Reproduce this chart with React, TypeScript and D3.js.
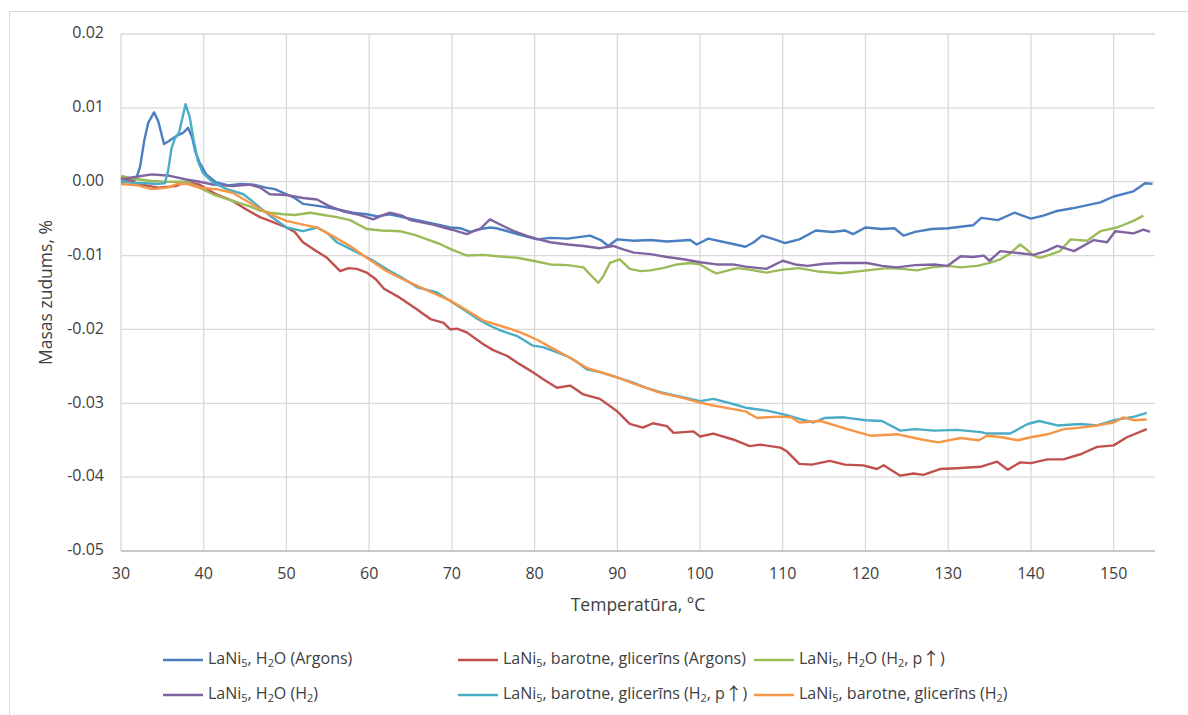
import React from "react";
import * as d3 from "d3";

type Pt = [number, number];

const xTicks = [30, 40, 50, 60, 70, 80, 90, 100, 110, 120, 130, 140, 150];
const yTicks = [0.02, 0.01, 0, -0.01, -0.02, -0.03, -0.04, -0.05];
const yTickLabels = ["0.02", "0.01", "0.00", "-0.01", "-0.02", "-0.03", "-0.04", "-0.05"];
const xTitle = "Temperatūra, °C";
const yTitle = "Masas zudums, %";

const h2oArgon: Pt[] = [[30,0.0000],[31,0.0001],[31.8,0.0003],[32.3,0.002],[32.8,0.0055],[33.3,0.008],[34,0.0094],[34.5,0.0082],[35.2,0.0051],[35.8,0.0055],[36.7,0.0062],[37.5,0.0066],[38.1,0.0073],[38.6,0.006],[39,0.004],[39.5,0.0026],[40.3,0.001],[41.5,-0.0001],[43,-0.0005],[44.5,-0.0003],[46,-0.0004],[47.5,-0.0008],[48.6,-0.001],[50,-0.0017],[51,-0.0022],[52,-0.003],[54,-0.0033],[56,-0.0037],[58,-0.0042],[59.7,-0.0044],[61,-0.0047],[62.5,-0.0044],[64,-0.0048],[65.8,-0.0052],[67.5,-0.0056],[69.8,-0.0062],[71,-0.0063],[72.2,-0.0068],[73.5,-0.0064],[74.6,-0.0062],[75.4,-0.0063],[77.9,-0.0071],[80.3,-0.0078],[81.9,-0.0076],[84,-0.0077],[86.7,-0.0073],[88,-0.0079],[88.9,-0.0087],[90,-0.0078],[92,-0.008],[94,-0.0079],[96,-0.0081],[98.8,-0.0079],[99.6,-0.0085],[101,-0.0077],[103,-0.0082],[105.5,-0.0088],[106.5,-0.0082],[107.5,-0.0073],[109,-0.0078],[110.3,-0.0083],[112,-0.0078],[114,-0.0066],[116,-0.0068],[117.5,-0.0066],[118.5,-0.0071],[120,-0.0062],[122,-0.0064],[123.5,-0.0063],[124.6,-0.0073],[126,-0.0068],[128,-0.0064],[130,-0.0063],[133,-0.0059],[134,-0.0049],[136,-0.0052],[138,-0.0042],[140,-0.005],[141.5,-0.0046],[143,-0.004],[145,-0.0036],[148.4,-0.0028],[150,-0.002],[152.4,-0.0013],[153.8,-0.0002],[154.7,-0.0003]];

const glycArgon: Pt[] = [[30,0.0005],[31,0.0002],[32,-0.0003],[34.5,-0.0008],[36.6,-0.0006],[37.9,0.0],[39.5,-0.0004],[41.5,-0.0017],[43.5,-0.0026],[45.2,-0.0038],[46.8,-0.0048],[48,-0.0053],[50,-0.0062],[51,-0.0068],[52,-0.0082],[53.5,-0.0093],[54.9,-0.0103],[56.5,-0.0121],[57.5,-0.0117],[58.5,-0.0118],[59.7,-0.0123],[60.8,-0.0132],[61.8,-0.0145],[63.7,-0.0157],[65.8,-0.0173],[67.4,-0.0186],[69,-0.0191],[69.8,-0.02],[70.6,-0.0199],[71.8,-0.0204],[73.8,-0.022],[75,-0.0228],[76.7,-0.0236],[78.2,-0.0247],[79.8,-0.0258],[81,-0.0267],[82.7,-0.0279],[84.3,-0.0276],[85.9,-0.0288],[87.9,-0.0294],[89.9,-0.031],[91.5,-0.0328],[93.1,-0.0333],[94.3,-0.0327],[96,-0.0331],[96.8,-0.034],[99.2,-0.0338],[100,-0.0345],[101.6,-0.0341],[104,-0.0349],[106,-0.0358],[107.3,-0.0356],[109.7,-0.036],[110.5,-0.0365],[112,-0.0382],[113.5,-0.0383],[115.7,-0.0378],[117.5,-0.0383],[119.7,-0.0384],[121.4,-0.0389],[122.2,-0.0384],[124.2,-0.0398],[125.8,-0.0395],[127,-0.0397],[129,-0.0389],[131,-0.0388],[133.9,-0.0386],[135.9,-0.0379],[137.2,-0.039],[138.7,-0.038],[140,-0.0381],[142,-0.0376],[143.9,-0.0376],[146,-0.0369],[148,-0.0359],[150,-0.0357],[151.6,-0.0346],[154,-0.0335]];

const h2oH2p: Pt[] = [[30,0.0008],[31.5,0.0004],[33.7,0.0001],[35.6,0.0],[37.9,0.0],[39.5,-0.0008],[41.1,-0.0017],[43.5,-0.0026],[45.5,-0.0033],[46.8,-0.0039],[48,-0.0042],[49.6,-0.0044],[51,-0.0045],[52.9,-0.0042],[54.5,-0.0045],[56.1,-0.0048],[57.7,-0.0052],[59.7,-0.0064],[61.5,-0.0066],[63.7,-0.0067],[65.5,-0.0072],[67,-0.0078],[68.5,-0.0084],[69.8,-0.0091],[71.8,-0.01],[73.8,-0.0099],[75.5,-0.0101],[77.9,-0.0103],[79.8,-0.0107],[81.9,-0.0112],[84,-0.0113],[85.9,-0.0116],[87.1,-0.013],[87.7,-0.0137],[88.3,-0.0128],[89.1,-0.011],[90.3,-0.0105],[91.5,-0.0118],[92.8,-0.0121],[94,-0.012],[95.5,-0.0117],[97.2,-0.0112],[98.8,-0.011],[100,-0.0112],[101.2,-0.012],[102,-0.0124],[104.5,-0.0117],[106,-0.0119],[108,-0.0123],[110,-0.0119],[112,-0.0117],[114.5,-0.0122],[117,-0.0124],[120.2,-0.012],[122.6,-0.0117],[124.5,-0.0118],[126.2,-0.012],[128,-0.0116],[129.9,-0.0114],[131.5,-0.0116],[133.5,-0.0114],[135,-0.011],[136.3,-0.0105],[137.5,-0.0097],[138.7,-0.0085],[139.5,-0.0092],[140.3,-0.01],[141.1,-0.0103],[142.5,-0.0098],[143.5,-0.0094],[144.8,-0.0078],[146.8,-0.008],[148.4,-0.0067],[150.4,-0.0062],[152.4,-0.0053],[153.6,-0.0046]];

const h2oH2: Pt[] = [[30,0.0003],[31.5,0.0006],[33.7,0.001],[35.9,0.0008],[37.9,0.0003],[39.5,0.0],[41.1,-0.0004],[43.5,-0.0006],[45.6,-0.0004],[46.8,-0.0008],[48,-0.0017],[50,-0.0018],[52,-0.0022],[53.7,-0.0024],[55,-0.0032],[56.8,-0.004],[58.5,-0.0044],[60.5,-0.0051],[61.5,-0.0046],[62.5,-0.0042],[64,-0.0046],[65,-0.0052],[67.7,-0.0058],[70,-0.0065],[71.8,-0.0071],[73.5,-0.0063],[74.6,-0.0051],[76.2,-0.006],[77.5,-0.0067],[79,-0.0073],[80.5,-0.0078],[81.9,-0.0082],[84,-0.0085],[85.9,-0.0087],[87.9,-0.009],[89.5,-0.0087],[90.8,-0.0092],[92,-0.0096],[94,-0.0098],[96,-0.0102],[98,-0.0105],[100,-0.0109],[102,-0.0112],[104,-0.0112],[105.5,-0.0115],[108,-0.0118],[110,-0.0107],[111.5,-0.0112],[113,-0.0114],[115,-0.0111],[117,-0.011],[120.2,-0.011],[122,-0.0114],[123.8,-0.0116],[126,-0.0113],[128.3,-0.0112],[129.9,-0.0114],[131.5,-0.0101],[133,-0.0102],[134.3,-0.01],[135,-0.0107],[136.3,-0.0094],[138,-0.0096],[140.3,-0.0099],[141.8,-0.0094],[143.2,-0.0087],[145.2,-0.0094],[147.6,-0.0079],[149.2,-0.0082],[150.2,-0.0067],[152.4,-0.007],[153.6,-0.0065],[154.4,-0.0068]];

const glycH2p: Pt[] = [[30,0.0001],[31.5,-0.0002],[33,-0.0002],[34.5,-0.0003],[35.3,-0.0002],[35.7,0.0015],[36.1,0.0045],[36.5,0.0058],[37,0.0066],[37.4,0.0085],[37.8,0.0105],[38.3,0.0088],[38.8,0.0055],[39.3,0.0028],[39.9,0.0012],[41.1,-0.0001],[42.8,-0.001],[44.8,-0.0017],[45.6,-0.0024],[46.8,-0.0035],[48,-0.0046],[50,-0.0062],[52,-0.0067],[53.7,-0.0062],[55,-0.007],[56.1,-0.0082],[57.7,-0.0091],[60.2,-0.0105],[62.5,-0.0121],[64,-0.013],[65.8,-0.0143],[68.2,-0.015],[70,-0.0163],[71.4,-0.0173],[73,-0.0185],[74.6,-0.0195],[76,-0.0202],[77.9,-0.0209],[79.8,-0.0222],[81,-0.0224],[82.5,-0.023],[83.9,-0.0236],[85,-0.0243],[86.3,-0.0254],[88,-0.0258],[90,-0.0265],[91.9,-0.0272],[93.5,-0.0279],[95.2,-0.0285],[98,-0.0292],[100,-0.0297],[101.6,-0.0294],[104,-0.0301],[105.5,-0.0306],[108.1,-0.031],[110.5,-0.0316],[112,-0.0321],[113.7,-0.0326],[115,-0.032],[117.4,-0.0319],[120,-0.0323],[122,-0.0324],[124.2,-0.0337],[126,-0.0335],[128.3,-0.0337],[131,-0.0336],[134,-0.0339],[134.7,-0.0341],[137.5,-0.0341],[139.6,-0.0328],[141,-0.0324],[143.2,-0.033],[146,-0.0328],[148,-0.033],[150,-0.0323],[152.5,-0.0318],[154,-0.0313]];

const glycH2: Pt[] = [[30,-0.0003],[32,-0.0005],[33.7,-0.001],[35.6,-0.0008],[36.8,-0.0003],[37.9,-0.0003],[39.5,-0.0008],[41.5,-0.001],[43.5,-0.0015],[45.2,-0.0026],[46.8,-0.0037],[48,-0.0044],[50,-0.0053],[52,-0.0058],[53.7,-0.0062],[55.5,-0.0073],[57.7,-0.0087],[59.7,-0.0103],[61.8,-0.0119],[63.7,-0.013],[65.8,-0.0141],[67.8,-0.0151],[69.8,-0.0161],[71.8,-0.0174],[73.8,-0.0188],[75.5,-0.0194],[77,-0.0199],[78.5,-0.0205],[80.3,-0.0214],[81.9,-0.0224],[83.9,-0.0236],[86.3,-0.0252],[88,-0.0258],[90,-0.0265],[91.9,-0.0273],[95.2,-0.0286],[98,-0.0293],[100,-0.0299],[101.6,-0.0303],[104,-0.0308],[105.5,-0.0311],[106.9,-0.032],[108.1,-0.0319],[109.7,-0.0318],[111,-0.0319],[112,-0.0326],[114.6,-0.0324],[117.8,-0.0335],[120.7,-0.0344],[123.9,-0.0342],[126.8,-0.0349],[128.8,-0.0353],[131.5,-0.0347],[133.7,-0.035],[134.7,-0.0344],[136.5,-0.0346],[138.4,-0.035],[140,-0.0346],[142,-0.0342],[144,-0.0335],[146,-0.0333],[148,-0.033],[150,-0.0326],[151.2,-0.0319],[152.5,-0.0323],[154,-0.0322]];

// legend label parts: [text, kind] kind: 0 normal, 1 subscript, 2 arrow
type Part = [string, number];
const seriesLabels: Part[][] = [
  [["LaNi", 0], ["5", 1], [", H", 0], ["2", 1], ["O (Argons)", 0]],
  [["LaNi", 0], ["5", 1], [", barotne, glicerīns (Argons)", 0]],
  [["LaNi", 0], ["5", 1], [", H", 0], ["2", 1], ["O (H", 0], ["2", 1], [", p", 0], ["↑", 2], [")", 0]],
  [["LaNi", 0], ["5", 1], [", H", 0], ["2", 1], ["O (H", 0], ["2", 1], [")", 0]],
  [["LaNi", 0], ["5", 1], [", barotne, glicerīns (H", 0], ["2", 1], [", p", 0], ["↑", 2], [")", 0]],
  [["LaNi", 0], ["5", 1], [", barotne, glicerīns (H", 0], ["2", 1], [")", 0]],
];
const seriesColors = ["#4a7ec0", "#c0504d", "#9bbb59", "#8064a2", "#4bacc6", "#f79646"];
const seriesData = [h2oArgon, glycArgon, h2oH2p, h2oH2, glycH2p, glycH2];

const W = 1188, H = 715;
const M = { left: 121, right: 1155, top: 34, bottom: 551 };
const FONT = "'Open Sans', sans-serif";
const TXT = "#404040";

const legendCols = [163, 458, 754];
const legendRows = [660, 695];

function Label({ parts, x, y, size }: { parts: Part[]; x: number; y: number; size: number }) {
  let sub = false;
  const spans: React.ReactNode[] = [];
  parts.forEach(([t, k], i) => {
    const s = k === 1;
    let dy = 0;
    if (s && !sub) dy = size * 0.22;
    if (!s && sub) dy = -size * 0.22;
    sub = s;
    spans.push(
      <tspan
        key={i}
        dy={dy}
        fontSize={s ? size * 0.68 : k === 2 ? size * 1.1 : size}
        fontFamily={k === 2 ? "'Noto Sans CJK SC', sans-serif" : undefined}
      >
        {t}
      </tspan>
    );
  });
  return (
    <text x={x} y={y} fontFamily={FONT} fontSize={size} fill={TXT} dominantBaseline="middle">
      {spans}
    </text>
  );
}

export default function App() {
  const x = d3.scaleLinear().domain([30, 155]).range([M.left, M.right]);
  const y = d3.scaleLinear().domain([-0.05, 0.02]).range([M.bottom, M.top]);
  const line = d3
    .line<Pt>()
    .x((d) => x(d[0]))
    .y((d) => y(d[1]))
    .curve(d3.curveLinear);

  return (
    <svg width={W} height={H} style={{ position: "absolute", left: 0, top: 0, background: "#fff" }}>
      <rect x={0} y={0} width={W} height={H} fill="#fff" />
      <rect x={9.5} y={11.5} width={W} height={H} fill="none" stroke="#d9d9d9" strokeWidth={1} />
      {yTicks.map((t) => (
        <line key={"gy" + t} x1={M.left} x2={M.right} y1={y(t)} y2={y(t)} stroke="#d9d9d9" strokeWidth={1.3} />
      ))}
      {xTicks.map((t) => (
        <line key={"gx" + t} x1={x(t)} x2={x(t)} y1={M.top} y2={M.bottom} stroke="#d9d9d9" strokeWidth={1.3} />
      ))}
      <line x1={M.left} x2={M.right} y1={M.bottom} y2={M.bottom} stroke="#bfbfbf" strokeWidth={1.3} />
      {yTicks.map((t, i) => (
        <text key={"ty" + t} x={104} y={y(t)} textAnchor="end" dominantBaseline="middle" fontFamily={FONT} fontSize={16} fill={TXT}>
          {yTickLabels[i]}
        </text>
      ))}
      {xTicks.map((t) => (
        <text key={"tx" + t} x={x(t)} y={575} textAnchor="middle" dominantBaseline="middle" fontFamily={FONT} fontSize={16} fill={TXT}>
          {t}
        </text>
      ))}
      <text x={(M.left + M.right) / 2} y={606} textAnchor="middle" dominantBaseline="middle" fontFamily={FONT} fontSize={17.5} fill={TXT}>
        {xTitle}
      </text>
      <text
        transform={`translate(47,${(M.top + M.bottom) / 2}) rotate(-90)`}
        textAnchor="middle"
        dominantBaseline="middle"
        fontFamily={FONT}
        fontSize={17.5}
        fill={TXT}
      >
        {yTitle}
      </text>
      <g>
        {seriesData.map((d, i) => (
          <path key={"s" + i} d={line(d) || ""} fill="none" stroke={seriesColors[i]} strokeWidth={2.4} strokeLinejoin="round" />
        ))}
      </g>
      {seriesLabels.map((parts, i) => {
        const cx = legendCols[i % 3];
        const cy = legendRows[Math.floor(i / 3)];
        return (
          <g key={"lg" + i}>
            <line x1={cx} x2={cx + 40} y1={cy} y2={cy} stroke={seriesColors[i]} strokeWidth={2.6} />
            <Label parts={parts} x={cx + 45} y={cy} size={16} />
          </g>
        );
      })}
    </svg>
  );
}
